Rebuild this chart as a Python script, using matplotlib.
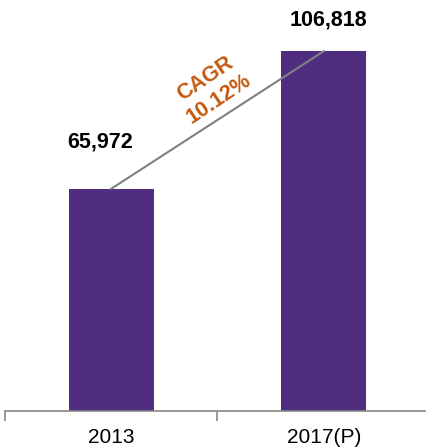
import numpy as np
import matplotlib.pyplot as plt

# Data
years = ['2013', '2017(P)']
values = [65972, 106818]
cagr_text = 'CAGR\n10.12%'

plt.rcParams['font.family'] = ['Liberation Sans', 'DejaVu Sans']

W, H = 427, 448
fig = plt.figure(figsize=(W / 100, H / 100), dpi=100)
# axes spans from x=5px to x=430px, baseline at y=411px
ax = fig.add_axes([5 / W, (H - 411) / H, 425 / W, 411 / H])

x = np.arange(len(years))
bar_color = '#4F2E80'
ax.bar(x, values, width=0.40, color=bar_color, zorder=2)

ax.set_xlim(-0.5, 1.5)
ax.set_ylim(0, 122000)

# connecting CAGR line between bar tops
ax.plot(x, values, color='#808080', lw=1.5, zorder=3)

# value labels
ax.text(x[0] - 0.05, values[0] + 14000, f'{values[0]:,}', ha='center', va='center',
        fontsize=15.5, fontweight='bold', color='black')
ax.text(x[1] + 0.02, values[1] + 9300, f'{values[1]:,}', ha='center', va='center',
        fontsize=15.5, fontweight='bold', color='black')

# CAGR annotation rotated along the line
ax.text(0.475, 95500, cagr_text, ha='center', va='center', rotation=34,
        fontsize=15.5, fontweight='bold', color='#C55A11', linespacing=1.2,
        rotation_mode='anchor')

# axis styling
for s in ['top', 'right', 'left']:
    ax.spines[s].set_visible(False)
ax.spines['bottom'].set_color('#888888')
ax.spines['bottom'].set_linewidth(1.2)
ax.set_yticks([])
ax.set_xticks(x)
ax.set_xticklabels(years, fontsize=15)
ax.tick_params(axis='x', which='major', length=0, pad=12)
ax.set_xticks([-0.5, 0.5, 1.5], minor=True)
ax.tick_params(axis='x', which='minor', length=7, width=1.2, color='#888888')

fig.savefig('out.png', dpi=100)
